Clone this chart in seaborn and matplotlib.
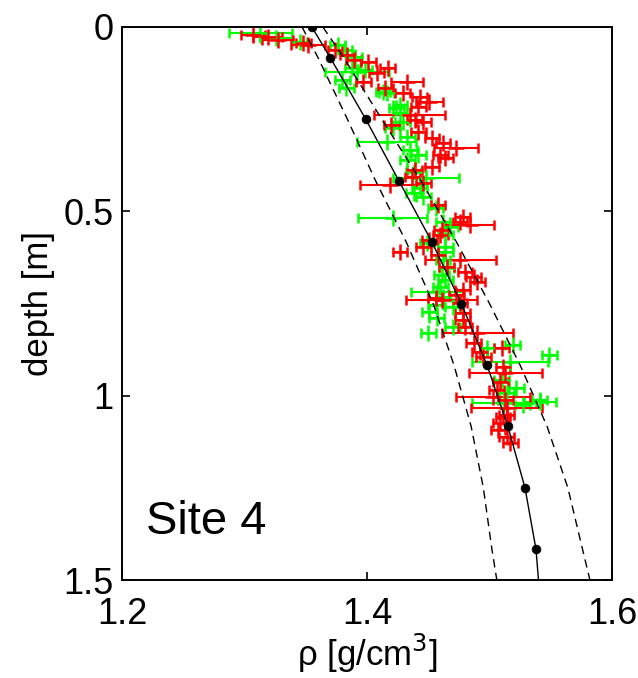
import numpy as np
import pandas as pd
import matplotlib
matplotlib.use("Agg")
import matplotlib.pyplot as plt
import seaborn as sns

# Densification model: depth [m] and density [g/cm3]
model_depth = [0.0, 0.083, 0.25, 0.417, 0.583, 0.75, 0.917, 1.083, 1.25, 1.417, 1.5]
model_rho = [1.355, 1.370, 1.399, 1.426, 1.453, 1.477, 1.498, 1.515, 1.529, 1.538, 1.540]
model_low = [1.347, 1.360, 1.384, 1.407, 1.432, 1.454, 1.471, 1.485, 1.495, 1.502, 1.506]
model_high = [1.364, 1.381, 1.412, 1.444, 1.473, 1.500, 1.525, 1.547, 1.564, 1.576, 1.582]
node_depth = [0.0, 0.083, 0.25, 0.417, 0.583, 0.75, 0.917, 1.083, 1.25, 1.417]
node_rho = [1.355, 1.370, 1.399, 1.426, 1.453, 1.477, 1.498, 1.515, 1.529, 1.538]

# Core profile A (red): density, depth, density uncertainty
red_rho = [1.307, 1.319, 1.327, 1.348, 1.352, 1.374, 1.384, 1.389, 1.401, 1.408,
           1.417, 1.433, 1.397, 1.415, 1.429, 1.443, 1.451, 1.442, 1.420, 1.435,
           1.439, 1.446, 1.442, 1.453, 1.462, 1.473, 1.460, 1.464, 1.453, 1.439,
           1.437, 1.419, 1.446, 1.458, 1.478, 1.476, 1.484, 1.461, 1.460, 1.451,
           1.446, 1.427, 1.458, 1.476, 1.465, 1.480, 1.487, 1.490, 1.478, 1.473,
           1.456, 1.476, 1.461, 1.478, 1.478, 1.480, 1.490, 1.487, 1.492, 1.495,
           1.510, 1.511, 1.513, 1.509, 1.506, 1.513, 1.514, 1.514, 1.511, 1.509,
           1.507, 1.514, 1.517, 1.503]
red_depth = [0.022, 0.027, 0.035, 0.043, 0.049, 0.062, 0.076, 0.090, 0.095, 0.125,
             0.111, 0.149, 0.149, 0.165, 0.179, 0.190, 0.203, 0.217, 0.266, 0.239,
             0.252, 0.258, 0.285, 0.301, 0.315, 0.328, 0.347, 0.355, 0.380, 0.388,
             0.407, 0.429, 0.423, 0.483, 0.515, 0.529, 0.537, 0.551, 0.564, 0.578,
             0.597, 0.610, 0.618, 0.632, 0.651, 0.664, 0.678, 0.692, 0.713, 0.727,
             0.735, 0.749, 0.740, 0.776, 0.795, 0.814, 0.830, 0.857, 0.881, 0.895,
             0.871, 0.922, 0.938, 0.963, 0.985, 1.012, 1.033, 1.052, 1.058, 1.074,
             1.093, 1.112, 1.128, 1.003]
red_err = [0.010, 0.012, 0.013, 0.006, 0.014, 0.006, 0.006, 0.006, 0.006, 0.006,
           0.006, 0.013, 0.006, 0.006, 0.006, 0.006, 0.011, 0.006, 0.006, 0.029,
           0.006, 0.006, 0.006, 0.006, 0.006, 0.018, 0.006, 0.006, 0.006, 0.006,
           0.006, 0.025, 0.006, 0.006, 0.006, 0.006, 0.020, 0.006, 0.006, 0.006,
           0.006, 0.006, 0.006, 0.029, 0.006, 0.006, 0.006, 0.006, 0.006, 0.006,
           0.006, 0.006, 0.029, 0.006, 0.006, 0.006, 0.029, 0.006, 0.006, 0.006,
           0.006, 0.006, 0.030, 0.006, 0.006, 0.006, 0.029, 0.006, 0.006, 0.006,
           0.006, 0.006, 0.006, 0.030]

# Core profile B (green): density, depth, density uncertainty
green_rho = [1.313, 1.326, 1.345, 1.376, 1.382, 1.390, 1.388, 1.392, 1.380, 1.416,
             1.427, 1.398, 1.413, 1.424, 1.427, 1.429, 1.421, 1.433, 1.416, 1.435,
             1.442, 1.433, 1.438, 1.448, 1.438, 1.446, 1.456, 1.421, 1.462, 1.468,
             1.464, 1.449, 1.464, 1.464, 1.462, 1.465, 1.461, 1.464, 1.460, 1.457,
             1.462, 1.456, 1.470, 1.451, 1.457, 1.450, 1.470, 1.498, 1.549, 1.519,
             1.517, 1.510, 1.522, 1.541, 1.512, 1.514, 1.527, 1.541, 1.443, 1.383]
green_depth = [0.016, 0.030, 0.041, 0.049, 0.062, 0.081, 0.111, 0.122, 0.144, 0.179,
               0.212, 0.117, 0.176, 0.220, 0.233, 0.258, 0.274, 0.298, 0.312, 0.334,
               0.347, 0.361, 0.393, 0.410, 0.450, 0.461, 0.491, 0.518, 0.529, 0.542,
               0.564, 0.586, 0.597, 0.610, 0.632, 0.654, 0.673, 0.686, 0.705, 0.719,
               0.732, 0.754, 0.759, 0.773, 0.789, 0.830, 0.814, 0.871, 0.890, 0.862,
               0.909, 0.957, 0.979, 1.012, 1.020, 0.993, 1.025, 1.017, 0.437, 0.165]
green_err = [0.026, 0.013, 0.006, 0.006, 0.006, 0.006, 0.006, 0.026, 0.006, 0.006,
             0.006, 0.006, 0.006, 0.006, 0.006, 0.006, 0.006, 0.006, 0.024, 0.006,
             0.006, 0.006, 0.006, 0.027, 0.006, 0.006, 0.006, 0.028, 0.006, 0.006,
             0.006, 0.006, 0.006, 0.006, 0.006, 0.006, 0.006, 0.006, 0.006, 0.021,
             0.006, 0.006, 0.006, 0.006, 0.006, 0.006, 0.006, 0.006, 0.006, 0.006,
             0.031, 0.006, 0.006, 0.006, 0.026, 0.006, 0.006, 0.013, 0.006, 0.006]

x_ticks = [1.2, 1.4, 1.6]
x_ticklabels = ["1.2", "1.4", "1.6"]
y_ticks = [0, 0.5, 1, 1.5]
y_ticklabels = ["0", "0.5", "1", "1.5"]

sns.set_style("ticks")
plt.rcParams["font.family"] = ["Liberation Sans", "DejaVu Sans"]
plt.rcParams["text.color"] = "black"
plt.rcParams["axes.labelcolor"] = "black"

fig = plt.figure(figsize=(6.38, 6.78), dpi=100)
ax = fig.add_axes([0.1912, 0.1445, 0.7680, 0.8157])

red = pd.DataFrame({"rho": red_rho, "depth": red_depth, "err": red_err})
green = pd.DataFrame({"rho": green_rho, "depth": green_depth, "err": green_err})

# Measurements: '+' markers with horizontal uncertainty bars
for df, col in ((green, "#00ff00"), (red, "#ff0000")):
    ax.errorbar(df["rho"], df["depth"], xerr=df["err"], fmt="+",
                color=col, ecolor=col, elinewidth=1.5, capsize=3.5, capthick=1.5,
                markersize=12, markeredgewidth=1.8, zorder=2)

# Model curve with its envelope and node points
model = pd.DataFrame({"depth": model_depth, "rho": model_rho,
                      "low": model_low, "high": model_high})
sns.lineplot(data=model, x="rho", y="depth", orient="y", sort=False,
             color="black", linewidth=1.0, ax=ax, zorder=4)
for col in ("low", "high"):
    sns.lineplot(data=model, x=col, y="depth", orient="y", sort=False,
                 color="black", linewidth=1.0, ax=ax, zorder=4,
                 linestyle=(0, (6, 4)))
nodes = pd.DataFrame({"depth": node_depth, "rho": node_rho})
sns.scatterplot(data=nodes, x="rho", y="depth", color="black", s=40,
                edgecolor="black", ax=ax, zorder=5, legend=False)

ax.set_xlim(1.2, 1.6)
ax.set_ylim(1.5, 0)
ax.set_xticks(x_ticks)
ax.set_xticklabels(x_ticklabels)
ax.set_yticks(y_ticks)
ax.set_yticklabels(y_ticklabels)
ax.tick_params(direction="in", length=6, width=1.2, labelsize=26,
               top=True, right=True, colors="black")
ax.tick_params(axis="x", pad=12)
ax.tick_params(axis="y", pad=6)
for sp in ax.spines.values():
    sp.set_linewidth(1.4)
    sp.set_color("black")

ax.set_xlabel("ρ [g/cm$^3$]", fontsize=25, labelpad=0)
ax.set_ylabel("depth [m]", fontsize=25, labelpad=6)
ax.text(0.05, 0.105, "Site 4", transform=ax.transAxes, fontsize=34,
        ha="left", va="center")

fig.savefig("out.png", dpi=100)
